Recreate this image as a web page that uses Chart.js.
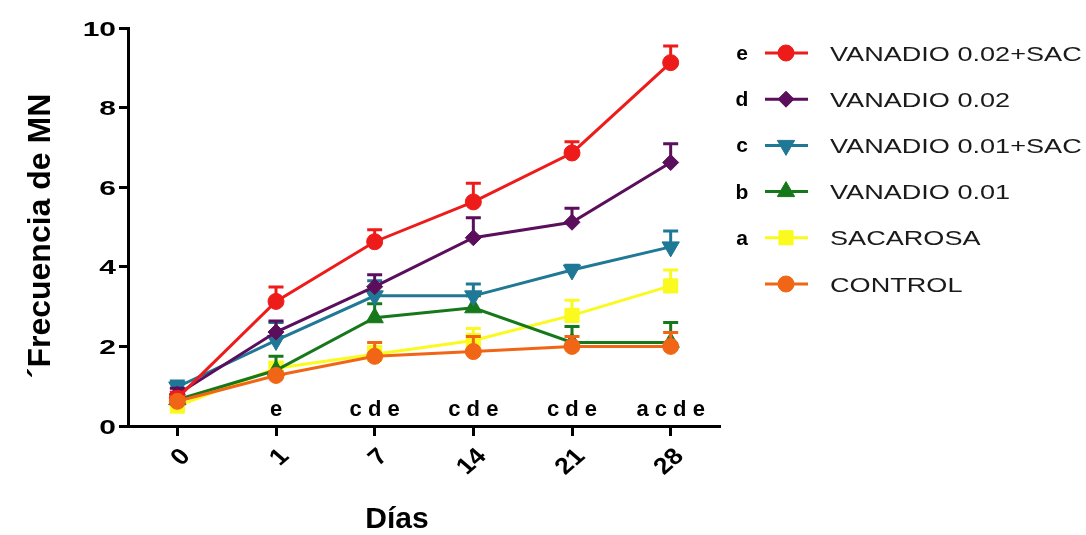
<!DOCTYPE html>
<html lang="es">
<head>
<meta charset="utf-8">
<title>Frecuencia de MN por día</title>
<script src="https://cdn.jsdelivr.net/npm/chart.js@4/dist/chart.umd.min.js"></script>
<style>
  html, body { margin: 0; padding: 0; background: #ffffff; }
  #grafico { display: block; }
</style>
</head>
<body>
<canvas id="grafico" width="1086" height="535"></canvas>
<script>
// Días de muestreo (eje X)
const dias = ['0', '1', '7', '14', '21', '28'];

// Medias de frecuencia de micronúcleos por grupo
const vanadio002Sac = [0.70, 3.13, 4.63, 5.63, 6.86, 9.13];
const vanadio002    = [0.80, 2.36, 3.50, 4.73, 5.12, 6.62];
const vanadio001Sac = [0.98, 2.15, 3.27, 3.27, 3.92, 4.50];
const vanadio001    = [0.66, 1.40, 2.72, 2.97, 2.10, 2.10];
const sacarosa      = [0.50, 1.45, 1.80, 2.15, 2.78, 3.52];
const control       = [0.62, 1.27, 1.75, 1.87, 2.00, 2.00];

// Error estándar (solo se dibuja hacia arriba)
const vanadio002SacErr = [0.15, 0.36, 0.30, 0.47, 0.28, 0.42];
const vanadio002Err    = [0.15, 0.28, 0.30, 0.50, 0.35, 0.47];
const vanadio001SacErr = [0.15, 0.45, 0.38, 0.30, 0.12, 0.40];
const vanadio001Err    = [0.10, 0.35, 0.35, 0.30, 0.40, 0.50];
const sacarosaErr      = [0.10, 0.15, 0.20, 0.30, 0.38, 0.40];
const controlErr       = [0.10, 0.10, 0.35, 0.38, 0.25, 0.35];

// Letras de significancia bajo cada día
const letrasDia = ['', 'e', 'c d e', 'c d e', 'c d e', 'a c d e'];

// Marcas del eje Y
const yMin = 0, yMax = 10, yPaso = 2;

// Series en el orden de la leyenda, con su letra
const series = [
  { nombre: 'VANADIO 0.02+SAC', letra: 'e', datos: vanadio002Sac, err: vanadio002SacErr, color: '#ee1b1b', estilo: 'circle',   radio: 8,  giro: 0 },
  { nombre: 'VANADIO 0.02',     letra: 'd', datos: vanadio002,    err: vanadio002Err,    color: '#5a0e5c', estilo: 'rectRot',  radio: 8,  giro: 0 },
  { nombre: 'VANADIO 0.01+SAC', letra: 'c', datos: vanadio001Sac, err: vanadio001SacErr, color: '#1f7895', estilo: 'triangle', radio: 10, giro: 180 },
  { nombre: 'VANADIO 0.01',     letra: 'b', datos: vanadio001,    err: vanadio001Err,    color: '#17781b', estilo: 'triangle', radio: 10, giro: 0 },
  { nombre: 'SACAROSA',         letra: 'a', datos: sacarosa,      err: sacarosaErr,      color: '#fafa1e', estilo: 'rect',     radio: 10, giro: 0 },
  { nombre: 'CONTROL',          letra: '',  datos: control,       err: controlErr,       color: '#f06616', estilo: 'circle',   radio: 8,  giro: 0 }
];

// Orden de dibujo: el primer conjunto queda encima
const ordenDibujo = [5, 0, 1, 2, 3, 4];

const FUENTE = '"Liberation Sans", Arial, Helvetica, sans-serif';

function texto(ctx, t, x, y, o) {
  ctx.save();
  ctx.translate(x, y);
  ctx.scale(o.sx || 1, 1);
  if (o.rot) ctx.rotate(o.rot);
  ctx.font = o.font;
  ctx.fillStyle = o.color || '#000';
  ctx.textAlign = o.align || 'left';
  ctx.textBaseline = o.baseline || 'alphabetic';
  ctx.fillText(t, 0, 0);
  ctx.restore();
}

function marcador(ctx, s, x, y) {
  ctx.save();
  ctx.fillStyle = s.color;
  ctx.strokeStyle = s.color;
  ctx.lineWidth = 1;
  if (Chart.helpers && Chart.helpers.drawPoint) {
    Chart.helpers.drawPoint(ctx, { pointStyle: s.estilo, radius: s.radio, rotation: s.giro, borderWidth: 1 }, x, y);
  } else {
    ctx.beginPath(); ctx.arc(x, y, s.radio, 0, Math.PI * 2); ctx.fill();
  }
  ctx.restore();
}

// Barras de error hacia arriba con tope
const barrasError = {
  id: 'barrasError',
  beforeDatasetDraw(chart, args) {
    const ds = chart.data.datasets[args.index];
    const y = chart.scales.y;
    const ctx = chart.ctx;
    ctx.save();
    ctx.strokeStyle = ds.borderColor;
    ctx.lineWidth = 3;
    args.meta.data.forEach((p, i) => {
      const top = y.getPixelForValue(ds.data[i] + ds.errores[i]);
      ctx.beginPath();
      ctx.moveTo(p.x, p.y);
      ctx.lineTo(p.x, top);
      ctx.moveTo(p.x - 7.5, top);
      ctx.lineTo(p.x + 7.5, top);
      ctx.stroke();
    });
    ctx.restore();
  }
};

// Rótulos de ejes, letras de significancia y leyenda
const rotulos = {
  id: 'rotulos',
  afterDraw(chart) {
    const ctx = chart.ctx;
    const sx = chart.scales.x, sy = chart.scales.y;
    const area = chart.chartArea;

    // Etiquetas del eje Y
    sy.ticks.forEach(t => {
      const py = sy.getPixelForValue(t.value);
      texto(ctx, String(t.value), area.left - 12, py + 7.5, { font: 'bold 20px ' + FUENTE, sx: 1.5, align: 'right' });
    });

    // Etiquetas del eje X, giradas
    dias.forEach((d, i) => {
      const px = sx.getPixelForValue(i);
      texto(ctx, d, px + 9, area.bottom + 27, { font: 'bold 23px ' + FUENTE, sx: 1.15, rot: -Math.PI / 4, align: 'right', baseline: 'middle' });
    });

    // Letras sobre el eje X
    letrasDia.forEach((l, i) => {
      if (!l) return;
      const px = sx.getPixelForValue(i);
      texto(ctx, l, px, area.bottom - 10, { font: 'bold 22px ' + FUENTE, align: 'center' });
    });

    // Títulos de ejes
    texto(ctx, 'Días', 397, 528, { font: 'bold 30px ' + FUENTE, align: 'center' });
    texto(ctx, '´Frecuencia de MN', 50, 236, { font: 'bold 32px ' + FUENTE, rot: -Math.PI / 2, align: 'center' });

    // Leyenda
    series.forEach((s, k) => {
      const yy = 53 + k * 46.2;
      if (s.letra) texto(ctx, s.letra, 742, yy + 7, { font: 'bold 21px ' + FUENTE, align: 'center' });
      ctx.save();
      ctx.strokeStyle = s.color;
      ctx.lineWidth = 3;
      ctx.beginPath();
      ctx.moveTo(765, yy);
      ctx.lineTo(808, yy);
      ctx.stroke();
      ctx.restore();
      marcador(ctx, s, 786, yy);
      texto(ctx, s.nombre, 830, yy + 7.5, { font: '21px ' + FUENTE, sx: 1.29, color: '#1a1a1a' });
    });
  }
};

const conjuntos = ordenDibujo.map(k => {
  const s = series[k];
  return {
    label: s.nombre,
    data: s.datos,
    errores: s.err,
    borderColor: s.color,
    backgroundColor: s.color,
    borderWidth: 3,
    tension: 0,
    pointStyle: s.estilo,
    pointRadius: s.radio,
    pointRotation: s.giro,
    pointBorderWidth: 1,
    pointBorderColor: s.color,
    pointBackgroundColor: s.color,
    fill: false
  };
});

new Chart(document.getElementById('grafico'), {
  type: 'line',
  data: { labels: dias, datasets: conjuntos },
  options: {
    responsive: false,
    animation: false,
    devicePixelRatio: 1,
    events: [],
    layout: { padding: { left: 0, top: 28, right: 366, bottom: 0 } },
    plugins: { legend: { display: false }, tooltip: { enabled: false } },
    scales: {
      x: {
        type: 'category',
        offset: true,
        grid: { drawOnChartArea: false, drawTicks: true, tickLength: 10, tickWidth: 3, tickColor: '#000' },
        border: { display: true, width: 3, color: '#000' },
        ticks: { display: false },
        afterFit(s) { s.height = 109; }
      },
      y: {
        min: yMin, max: yMax,
        ticks: { display: false, stepSize: yPaso },
        grid: { drawOnChartArea: false, drawTicks: true, tickLength: 9, tickWidth: 3, tickColor: '#000' },
        border: { display: true, width: 3, color: '#000' },
        afterFit(s) { s.width = 128; }
      }
    }
  },
  plugins: [barrasError, rotulos]
});
</script>
</body>
</html>
